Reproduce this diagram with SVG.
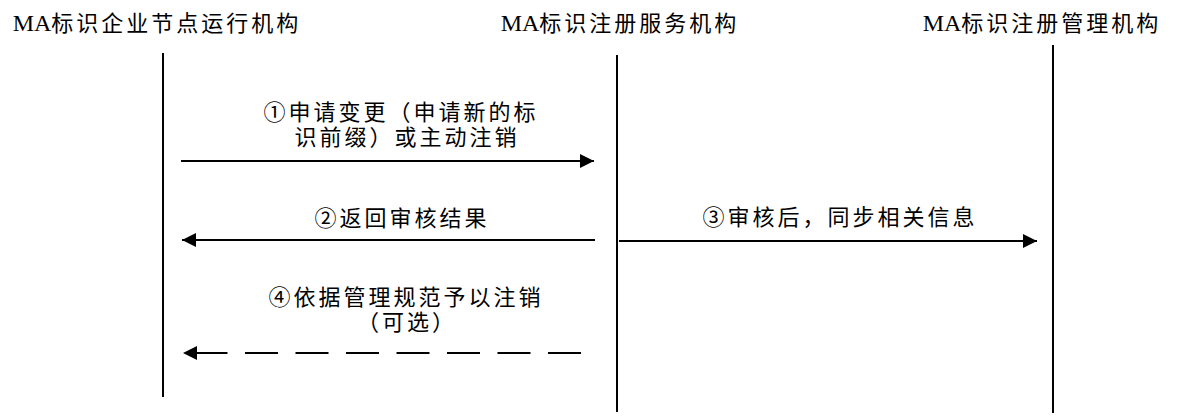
<svg xmlns="http://www.w3.org/2000/svg" width="1182" height="417" viewBox="0 0 1182 417">
<style>
text{font-family:"Liberation Serif","Noto Sans CJK SC",serif;font-size:22px;letter-spacing:3px;fill:#000;text-anchor:middle}
.lat{font-size:24px;letter-spacing:0}
.life{stroke:#000;stroke-width:2;fill:none}
.msg{stroke:#000;stroke-width:2;fill:none;marker-end:url(#ah)}
.dash{stroke-dasharray:33 17.5}
</style>
<defs>
<marker id="ah" markerUnits="userSpaceOnUse" markerWidth="14" markerHeight="14" refX="14" refY="7" orient="auto">
<path d="M0,0 L14,7 L0,14 z" fill="#000"/>
</marker>
</defs>
<rect width="1182" height="417" fill="#fff"/>
<g id="node-enterprise">
<text x="157" y="31"><tspan class="lat">MA</tspan>标识企业节点运行机构</text>
<line class="life" x1="163" y1="53" x2="163" y2="397"/>
</g>
<g id="node-service">
<text x="620" y="31"><tspan class="lat">MA</tspan>标识注册服务机构</text>
<line class="life" x1="617" y1="55" x2="617" y2="412"/>
</g>
<g id="node-management">
<text x="1042" y="31"><tspan class="lat">MA</tspan>标识注册管理机构</text>
<line class="life" x1="1053" y1="45" x2="1053" y2="413"/>
</g>
<g id="connectors">
<path class="msg" d="M181,161 L594,161"/>
<text x="401" y="120">①申请变更（申请新的标</text>
<text x="407" y="145">识前缀）或主动注销</text>
<path class="msg" d="M595,240 L182,240"/>
<text x="402" y="226">②返回审核结果</text>
<path class="msg" d="M619,241 L1037,241"/>
<text x="840" y="225">③审核后，同步相关信息</text>
<path class="msg dash" d="M581,353 L183,353"/>
<text x="406" y="305">④依据管理规范予以注销</text>
<text x="407" y="330">（可选）</text>
</g>
</svg>
